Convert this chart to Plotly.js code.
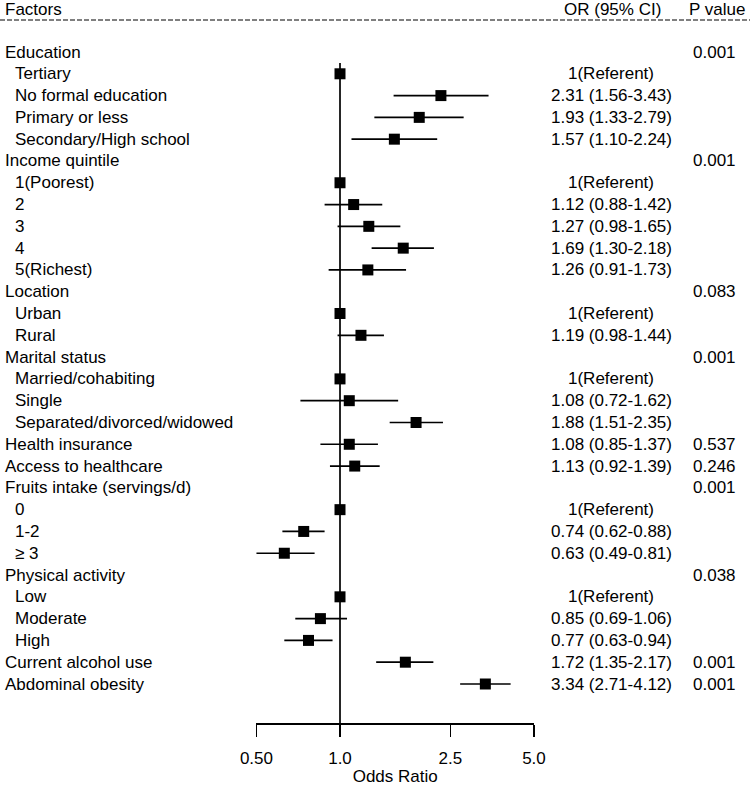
<!DOCTYPE html>
<html>
<head>
<meta charset="utf-8">
<script src="https://cdn.plot.ly/plotly-3.0.1.min.js"></script>
<style>html,body{margin:0;padding:0;background:#fff;}#chart{width:750px;height:786px;}</style>
</head>
<body>
<div id="chart"></div>
<script>
// ---- data ----
var labels = ["Education","Tertiary","No formal education","Primary or less","Secondary/High school",
  "Income quintile","1(Poorest)","2","3","4","5(Richest)",
  "Location","Urban","Rural",
  "Marital status","Married/cohabiting","Single","Separated/divorced/widowed",
  "Health insurance","Access to healthcare",
  "Fruits intake (servings/d)","0","1-2","\u2265 3",
  "Physical activity","Low","Moderate","High",
  "Current alcohol use","Abdominal obesity"];
var indent = [0,1,1,1,1, 0,1,1,1,1,1, 0,1,1, 0,1,1,1, 0,0, 0,1,1,1, 0,1,1,1, 0,0];
var orValue = [null,1,2.31,1.93,1.57, null,1,1.12,1.27,1.69,1.26, null,1,1.19, null,1,1.08,1.88, 1.08,1.13, null,1,0.74,0.63, null,1,0.85,0.77, 1.72,3.34];
var ciLow  = [null,1,1.56,1.33,1.10, null,1,0.88,0.98,1.30,0.91, null,1,0.98, null,1,0.72,1.51, 0.85,0.92, null,1,0.62,0.49, null,1,0.69,0.63, 1.35,2.71];
var ciHigh = [null,1,3.43,2.79,2.24, null,1,1.42,1.65,2.18,1.73, null,1,1.44, null,1,1.62,2.35, 1.37,1.39, null,1,0.88,0.81, null,1,1.06,0.94, 2.17,4.12];
var orText = ["","1(Referent)","2.31 (1.56-3.43)","1.93 (1.33-2.79)","1.57 (1.10-2.24)",
  "","1(Referent)","1.12 (0.88-1.42)","1.27 (0.98-1.65)","1.69 (1.30-2.18)","1.26 (0.91-1.73)",
  "","1(Referent)","1.19 (0.98-1.44)",
  "","1(Referent)","1.08 (0.72-1.62)","1.88 (1.51-2.35)",
  "1.08 (0.85-1.37)","1.13 (0.92-1.39)",
  "","1(Referent)","0.74 (0.62-0.88)","0.63 (0.49-0.81)",
  "","1(Referent)","0.85 (0.69-1.06)","0.77 (0.63-0.94)",
  "1.72 (1.35-2.17)","3.34 (2.71-4.12)"];
var pText = ["0.001","","","","", "0.001","","","","","", "0.083","","", "0.001","","","", "0.537","0.246", "0.001","","","", "0.038","","","", "0.001","0.001"];
var tickVals = [0.5, 1, 2.5, 5];
var tickText = ["0.50","1.0","2.5","5.0"];
var headers = ["Factors","OR (95% CI)","P value"];

// ---- build ----
var W = 750, H = 786;
var FONT = "Liberation Sans, Arial, sans-serif";
var FS = 17;
var rows = labels.map(function(_, i){ return i + 1; });
var px = [], py = [], ep = [], em = [];
for (var i = 0; i < rows.length; i++) {
  if (orValue[i] !== null) {
    px.push(orValue[i]); py.push(rows[i]);
    ep.push(ciHigh[i] - orValue[i]); em.push(orValue[i] - ciLow[i]);
  }
}
var trace = {
  type: "scatter", mode: "markers", x: px, y: py,
  marker: {symbol: "square", size: 11, color: "#000"},
  error_x: {type: "data", symmetric: false, array: ep, arrayminus: em, width: 0, thickness: 1.7, color: "#000"},
  hoverinfo: "skip", showlegend: false, cliponaxis: false
};

// row r sits at pixel 52 + (r-1)*21.793
function rowAt(p) { return 1 + (p - 52) / 21.793; }
var yTop = rowAt(0), yBot = rowAt(745), yAxisRow = rowAt(723);
var ann = [];
function txt(x, y, t, anchor) {
  ann.push({xref: "paper", yref: "y", x: x / W, y: y, text: t, xanchor: anchor, yanchor: "middle",
    showarrow: false, font: {family: FONT, size: FS, color: "#000"}});
}
for (var j = 0; j < rows.length; j++) {
  txt(indent[j] ? 13 : 3, rows[j], labels[j], "left");
  if (orText[j]) txt(611, rows[j], orText[j], "center");
  if (pText[j]) txt(738, rows[j], pText[j], "right");
}
var hy = rowAt(9);
txt(3, hy, headers[0], "left");
txt(612, hy, headers[1], "center");
txt(747, hy, headers[2], "right");

var axisPaperY = 1 - 723 / H;
var shapes = [
  {type: "line", xref: "paper", yref: "y", x0: 0, x1: 1, y0: rowAt(20), y1: rowAt(20), line: {color: "#000", width: 1, dash: "5px,2px"}},
  {type: "line", xref: "x", yref: "y", x0: 1, x1: 1, y0: rowAt(63), y1: yAxisRow, line: {color: "#000", width: 1.7}}
];

// log axis: pixel = 340 + 277.5*log10(x); axis spans exactly 0.5 .. 5.0
var lo = Math.log10(tickVals[0]), hi = Math.log10(tickVals[tickVals.length - 1]);
var pLo = 340 + 277.5 * lo, pHi = 340 + 277.5 * hi;
var layout = {
  width: W, height: H,
  margin: {l: 0, r: 0, t: 0, b: 0, pad: 0},
  paper_bgcolor: "#fff", plot_bgcolor: "rgba(0,0,0,0)",
  font: {family: FONT, size: FS, color: "#000"},
  xaxis: {type: "log", domain: [pLo / W, pHi / W], range: [lo, hi],
    anchor: "free", position: axisPaperY,
    tickvals: tickVals, ticktext: tickText, ticks: "outside", ticklen: 12, tickwidth: 1.7, tickcolor: "#000",
    showline: true, linecolor: "#000", linewidth: 1.7,
    showgrid: false, zeroline: false, automargin: false, ticklabelstandoff: 7,
    tickfont: {family: FONT, size: FS, color: "#000"},
    title: {text: "Odds Ratio", font: {family: FONT, size: FS, color: "#000"}, standoff: 6}, fixedrange: true},
  yaxis: {domain: [1 - 745 / H, 1], range: [yBot, yTop], showgrid: false, zeroline: false, showline: false,
    showticklabels: false, ticks: "", automargin: false, fixedrange: true},
  annotations: ann, shapes: shapes, showlegend: false
};
Plotly.newPlot("chart", [trace], layout, {staticPlot: true, displayModeBar: false});
</script>
</body>
</html>
